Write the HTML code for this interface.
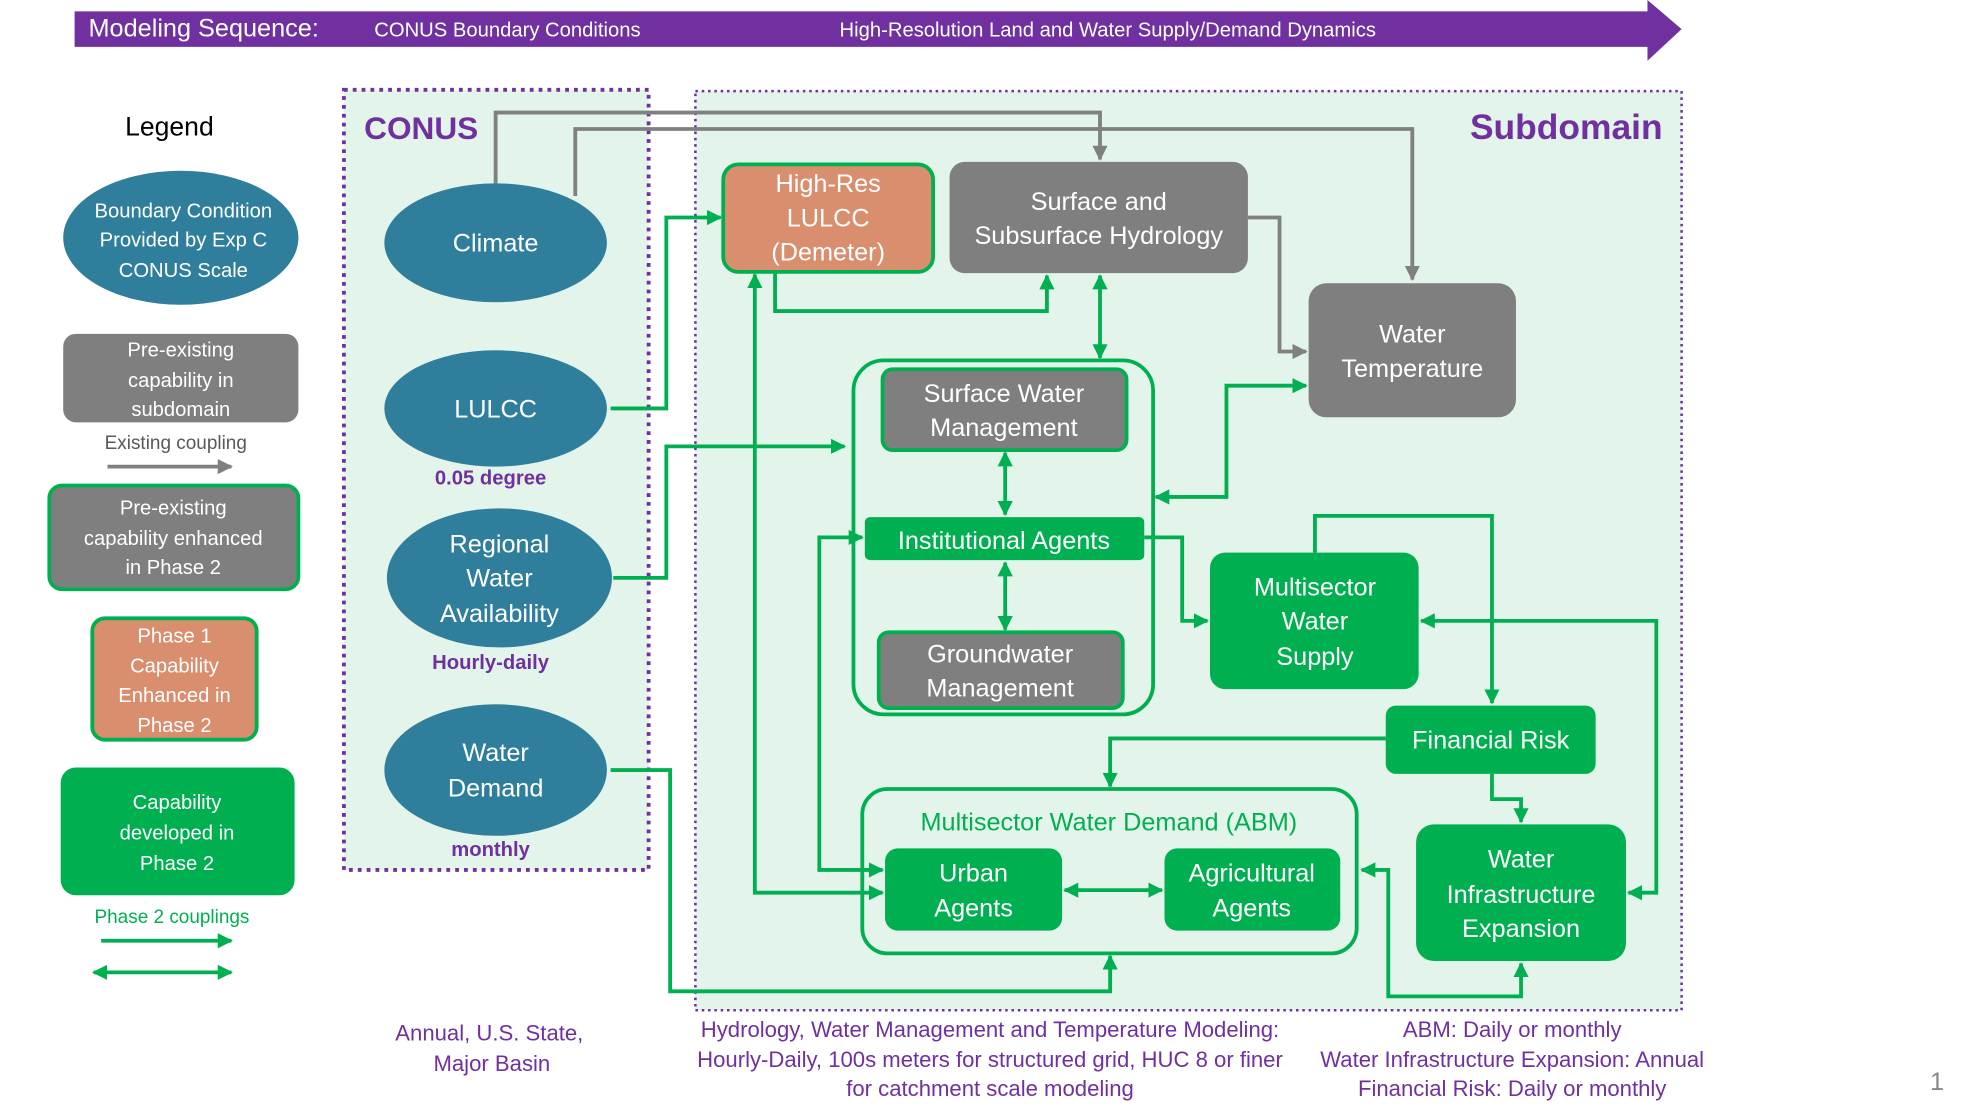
<!DOCTYPE html>
<html><head><meta charset="utf-8"><style>
html,body{margin:0;padding:0;background:#fff;}
svg{display:block;font-family:"Liberation Sans",sans-serif;}
</style></head><body>
<svg width="1980" height="1114" viewBox="0 0 1566 881" xmlns="http://www.w3.org/2000/svg">
<defs>
<marker id="g" viewBox="0 0 10 10" refX="9" refY="5" markerWidth="4" markerHeight="4" orient="auto-start-reverse"><path d="M0,0L10,5L0,10z" fill="#00b050"/></marker>
<marker id="k" viewBox="0 0 10 10" refX="9" refY="5" markerWidth="4" markerHeight="4" orient="auto-start-reverse"><path d="M0,0L10,5L0,10z" fill="#808080"/></marker>
</defs>
<polygon points="59,9 1303,9 1303,0 1330,23 1303,48 1303,37 59,37" fill="#7030a0"/>
<text x="70" y="29" fill="#fff" font-size="20">Modeling Sequence:</text>
<text x="296" y="29" fill="#fff" font-size="16">CONUS Boundary Conditions</text>
<text x="664" y="29" fill="#fff" font-size="16">High-Resolution Land and Water Supply/Demand Dynamics</text>

<rect x="272" y="71" width="241" height="617" fill="#e3f4ea" stroke="#7030a0" stroke-width="3" stroke-dasharray="3,4"/>
<rect x="550" y="72" width="780" height="727" fill="#e3f4ea" stroke="#7030a0" stroke-width="2" stroke-dasharray="2,3"/>
<text x="288" y="110" fill="#7030a0" font-size="25" font-weight="bold">CONUS</text>
<text x="1315" y="110" fill="#7030a0" font-size="28" font-weight="bold" text-anchor="end">Subdomain</text>

<text x="134" y="107" font-size="21" text-anchor="middle">Legend</text>
<ellipse cx="143" cy="188" rx="93" ry="53" fill="#2f7f9c"/>
<g fill="#fff" font-size="16" text-anchor="middle"><text x="145" y="172">Boundary Condition</text><text x="145" y="195">Provided by Exp C</text><text x="145" y="219">CONUS Scale</text></g>
<rect x="50" y="264" width="186" height="70" rx="10" fill="#7f7f7f"/>
<g fill="#fff" font-size="16" text-anchor="middle"><text x="143" y="282">Pre-existing</text><text x="143" y="306">capability in</text><text x="143" y="329">subdomain</text></g>
<text x="139" y="355" font-size="15" fill="#595959" text-anchor="middle">Existing coupling</text>
<line x1="85" y1="369" x2="183" y2="369" stroke="#808080" stroke-width="3" marker-end="url(#k)"/>
<rect x="39" y="384" width="197" height="82" rx="10" fill="#7f7f7f" stroke="#00b050" stroke-width="3"/>
<g fill="#fff" font-size="16" text-anchor="middle"><text x="137" y="407">Pre-existing</text><text x="137" y="431">capability enhanced</text><text x="137" y="454">in Phase 2</text></g>
<rect x="73" y="489" width="130" height="96" rx="10" fill="#d98e6e" stroke="#00b050" stroke-width="3"/>
<g fill="#fff" font-size="16" text-anchor="middle"><text x="138" y="508">Phase 1</text><text x="138" y="532">Capability</text><text x="138" y="555">Enhanced in</text><text x="138" y="579">Phase 2</text></g>
<rect x="48" y="607" width="185" height="101" rx="12" fill="#00b050"/>
<g fill="#fff" font-size="16" text-anchor="middle"><text x="140" y="640">Capability</text><text x="140" y="664">developed in</text><text x="140" y="688">Phase 2</text></g>
<text x="136" y="730" font-size="15" fill="#00b050" text-anchor="middle">Phase 2 couplings</text>
<line x1="80" y1="744" x2="183" y2="744" stroke="#00b050" stroke-width="3" marker-end="url(#g)"/>
<line x1="74" y1="769" x2="183" y2="769" stroke="#00b050" stroke-width="3" marker-end="url(#g)" marker-start="url(#g)"/>

<g fill="none" stroke="#808080" stroke-width="3">
<path d="M392,145V89H870V126" marker-end="url(#k)"/>
<path d="M455,155V102H1117V221" marker-end="url(#k)"/>
<path d="M987,172H1012V278H1033" marker-end="url(#k)"/>
</g>

<g fill="#2f7f9c"><ellipse cx="392" cy="192" rx="88" ry="47"/><ellipse cx="392" cy="323" rx="88" ry="46"/><ellipse cx="395" cy="457" rx="89" ry="55"/><ellipse cx="392" cy="609" rx="88" ry="52"/></g>
<g fill="#fff" font-size="20" text-anchor="middle">
<text x="392" y="199">Climate</text><text x="392" y="330">LULCC</text>
<text x="395" y="437">Regional</text><text x="395" y="464">Water</text><text x="395" y="492">Availability</text>
<text x="392" y="602">Water</text><text x="392" y="630">Demand</text></g>
<g fill="#7030a0" font-size="16" font-weight="bold" text-anchor="middle"><text x="388" y="383">0.05 degree</text><text x="388" y="529">Hourly-daily</text><text x="388" y="677">monthly</text></g>

<g fill="none" stroke="#00b050" stroke-width="3">
<path d="M483,323H527V172H570" marker-end="url(#g)"/>
<path d="M613,216V246H828V218" marker-end="url(#g)"/>
<path d="M870,218V283" marker-end="url(#g)" marker-start="url(#g)"/>
<path d="M485,457H527V353H668" marker-end="url(#g)"/>
<path d="M795,358V407" marker-end="url(#g)" marker-start="url(#g)"/>
<path d="M795,445V498" marker-end="url(#g)" marker-start="url(#g)"/>
<path d="M905,425H935V491H955" marker-end="url(#g)"/>
<path d="M914,393H970V305H1033" marker-end="url(#g)" marker-start="url(#g)"/>
<path d="M1040,437V408H1180V556" marker-end="url(#g)"/>
<path d="M1096,584H878V622" marker-end="url(#g)"/>
<path d="M1180,612V632H1203V650" marker-end="url(#g)"/>
<path d="M1288,706H1310V491H1124" marker-end="url(#g)" marker-start="url(#g)"/>
<path d="M842,704H919" marker-end="url(#g)" marker-start="url(#g)"/>
<path d="M483,609H530V784H878V756" marker-end="url(#g)"/>
<path d="M1203,762V788H1098V688H1077" marker-end="url(#g)" marker-start="url(#g)"/>
<path d="M597,217V706H698" marker-end="url(#g)" marker-start="url(#g)"/>
<path d="M682,425H648V688H698" marker-end="url(#g)" marker-start="url(#g)"/>
</g>

<rect x="572" y="130" width="166" height="85" rx="12" fill="#d98e6e" stroke="#00b050" stroke-width="3"/>
<g fill="#fff" font-size="20" text-anchor="middle"><text x="655" y="152">High-Res</text><text x="655" y="179">LULCC</text><text x="655" y="206">(Demeter)</text></g>
<rect x="751" y="128" width="236" height="88" rx="12" fill="#7f7f7f"/>
<g fill="#fff" font-size="20" text-anchor="middle"><text x="869" y="166">Surface and</text><text x="869" y="193">Subsurface Hydrology</text></g>
<rect x="1035" y="224" width="164" height="106" rx="14" fill="#7f7f7f"/>
<g fill="#fff" font-size="20" text-anchor="middle"><text x="1117" y="271">Water</text><text x="1117" y="298">Temperature</text></g>
<rect x="675" y="285" width="237" height="280" rx="24" fill="none" stroke="#00b050" stroke-width="3"/>
<rect x="698" y="292" width="193" height="64" rx="8" fill="#7f7f7f" stroke="#00b050" stroke-width="3"/>
<g fill="#fff" font-size="20" text-anchor="middle"><text x="794" y="318">Surface Water</text><text x="794" y="345">Management</text></g>
<rect x="684" y="409" width="221" height="34" rx="4" fill="#00b050"/>
<text x="794" y="434" fill="#fff" font-size="20" text-anchor="middle">Institutional Agents</text>
<rect x="695" y="500" width="193" height="60" rx="8" fill="#7f7f7f" stroke="#00b050" stroke-width="3"/>
<g fill="#fff" font-size="20" text-anchor="middle"><text x="791" y="524">Groundwater</text><text x="791" y="551">Management</text></g>
<rect x="957" y="437" width="165" height="108" rx="12" fill="#00b050"/>
<g fill="#fff" font-size="20" text-anchor="middle"><text x="1040" y="471">Multisector</text><text x="1040" y="498">Water</text><text x="1040" y="526">Supply</text></g>
<rect x="1096" y="558" width="166" height="54" rx="8" fill="#00b050"/>
<text x="1179" y="592" fill="#fff" font-size="20" text-anchor="middle">Financial Risk</text>
<rect x="682" y="624" width="391" height="130" rx="20" fill="none" stroke="#00b050" stroke-width="3"/>
<text x="877" y="657" fill="#00b050" font-size="20" text-anchor="middle">Multisector Water Demand (ABM)</text>
<rect x="700" y="671" width="140" height="65" rx="10" fill="#00b050"/>
<g fill="#fff" font-size="20" text-anchor="middle"><text x="770" y="697">Urban</text><text x="770" y="725">Agents</text></g>
<rect x="921" y="671" width="139" height="65" rx="10" fill="#00b050"/>
<g fill="#fff" font-size="20" text-anchor="middle"><text x="990" y="697">Agricultural</text><text x="990" y="725">Agents</text></g>
<rect x="1120" y="652" width="166" height="108" rx="14" fill="#00b050"/>
<g fill="#fff" font-size="20" text-anchor="middle"><text x="1203" y="686">Water</text><text x="1203" y="714">Infrastructure</text><text x="1203" y="741">Expansion</text></g>

<g fill="#7030a0" font-size="17.5" text-anchor="middle">
<text x="387" y="823">Annual, U.S. State,</text><text x="389" y="847">Major Basin</text>
<text x="783" y="820">Hydrology, Water Management and Temperature Modeling:</text>
<text x="783" y="844">Hourly-Daily, 100s meters for structured grid, HUC 8 or finer</text>
<text x="783" y="867">for catchment scale modeling</text>
<text x="1196" y="820">ABM: Daily or monthly</text>
<text x="1196" y="844">Water Infrastructure Expansion: Annual</text>
<text x="1196" y="867">Financial Risk: Daily or monthly</text>
</g>
<text x="1532" y="862" fill="#888" font-size="20" text-anchor="middle">1</text>
</svg>
</body></html>
